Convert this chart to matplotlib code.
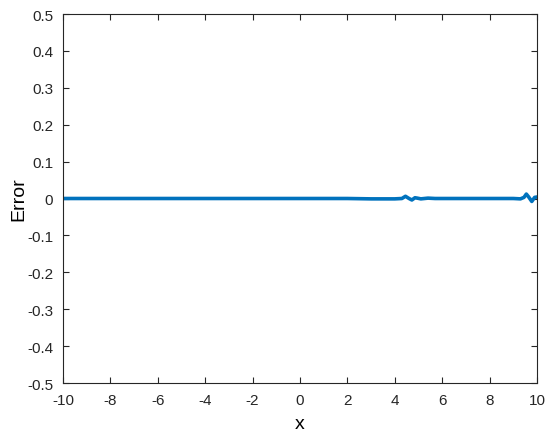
import matplotlib.pyplot as plt

# error curve (mostly flat zero, small wiggles near x=4.5 and x=9.6)
x_vals = [-10, -8, -6, -4, -2, 0, 2, 3, 4, 4.3, 4.45, 4.6, 4.72, 4.85, 4.95, 5.1, 5.4, 5.7, 6, 7, 8, 9, 9.3, 9.45, 9.55, 9.65, 9.78, 9.9, 10]
err_vals = [0, 0, 0, 0, 0, 0, 0, -0.001, -0.001, 0.0, 0.006, 0.0, -0.004, 0.002, 0.001, -0.001, 0.001, 0.0, 0.0, 0.0, 0.0, 0.0, -0.001, 0.003, 0.012, 0.004, -0.008, 0.003, 0.004]

xticks = [-10, -8, -6, -4, -2, 0, 2, 4, 6, 8, 10]
yticks = [-0.5, -0.4, -0.3, -0.2, -0.1, 0, 0.1, 0.2, 0.3, 0.4, 0.5]

plt.rcParams['font.family'] = ['Liberation Sans', 'DejaVu Sans']

fig = plt.figure(figsize=(5.5, 4.39), dpi=100)
ax = fig.add_axes([63/550, 1 - 384/439, (537-63)/550, (384-15)/439])

ax.plot(x_vals, err_vals, color='#0072BD', linewidth=2.6)

ax.set_xlim(-10, 10)
ax.set_ylim(-0.5, 0.5)
ax.set_xticks(xticks)
ax.set_xticklabels([str(t) for t in xticks])
ax.set_yticks(yticks)
ax.set_yticklabels(['-0.5', '-0.4', '-0.3', '-0.2', '-0.1', '0', '0.1', '0.2', '0.3', '0.4', '0.5'])
ax.tick_params(direction='in', top=True, right=True, length=4, width=0.8,
               labelsize=11, colors='#262626', labelcolor='#262626')
ax.tick_params(axis='x', pad=7)
ax.tick_params(axis='y', pad=7)
for s in ax.spines.values():
    s.set_color('#262626')
    s.set_linewidth(0.8)

ax.set_xlabel('x', fontsize=14, labelpad=6)
ax.set_ylabel('Error', fontsize=14, labelpad=0)

fig.savefig('out.png', dpi=100)
